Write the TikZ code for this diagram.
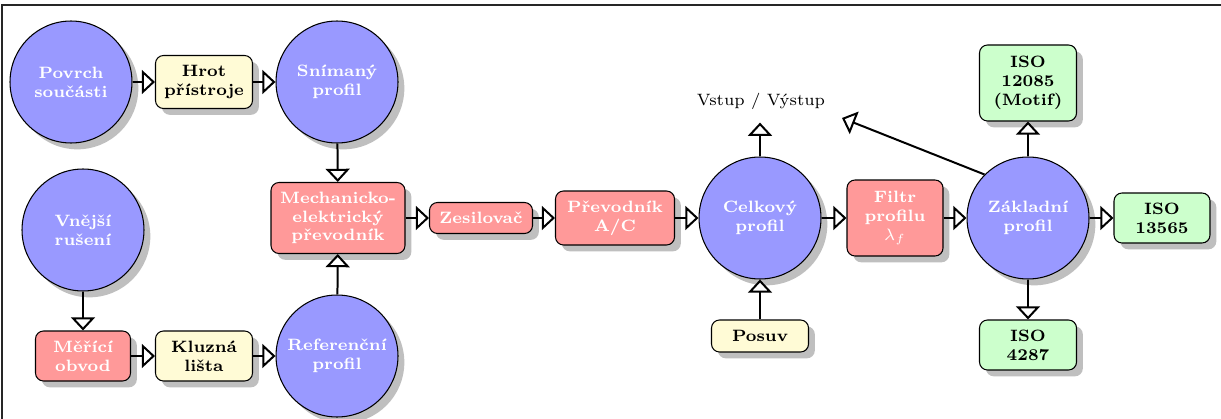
\documentclass[tikz,border=0pt]{standalone}
\usepackage{fontspec}
\usetikzlibrary{shadows,arrows.meta}
\definecolor{cblue}{HTML}{9999FF}
\definecolor{cred}{HTML}{FF9999}
\definecolor{cyel}{HTML}{FFFBD6}
\definecolor{cgreen}{HTML}{CCFFCC}
\tikzset{
  lbl/.style={font=\fontsize{7}{8}\selectfont\bfseries, align=center},
  shad/.style={drop shadow={shadow xshift=2.7pt, shadow yshift=-2.7pt, opacity=1, fill=black!25}},
  circ/.style={lbl, circle, draw=black, line width=0.45pt, fill=cblue, text=white, minimum size=51.9pt, inner sep=1pt, shad},
  bx/.style={lbl, rectangle, rounded corners=3.4pt, draw=black, line width=0.45pt, inner sep=1pt, shad},
  rbox/.style={bx, fill=cred, text=white},
  ybox/.style={bx, fill=cyel, text=black},
  gbox/.style={bx, fill=cgreen, text=black},
  sz/.style 2 args={minimum width=#1*0.4255pt, minimum height=#2*0.4255pt},
  arr/.style={line width=0.85pt, -{Triangle[fill=white, width=10.2pt, length=5.6pt, line width=0.85pt]}}
}
\begin{document}
\begin{tikzpicture}[x=0.4255pt, y=-0.4255pt]
\useasboundingbox (0,0) rectangle (1221,419);
\draw[line width=0.5pt, black!85] (2,419) -- (2,5) -- (1221,5);
% nodes
\node[circ] (povrch) at (71,82) {Povrch\\součásti};
\node[ybox, sz={97}{53}] (hrot) at (204,82) {Hrot\\přístroje};
\node[circ] (snim) at (337,82) {Snímaný\\profil};
\node[rbox, sz={134}{71}] (mech) at (338,218) {Mechanicko-\\elektrický\\převodník};
\node[circ] (vnej) at (83,230) {Vnější\\rušení};
\node[rbox, sz={95}{50}] (meric) at (83,356) {Měřící\\obvod};
\node[ybox, sz={97}{50}] (kluz) at (204,356) {Kluzná\\lišta};
\node[circ] (ref) at (337,356) {Referenční\\profil};
\node[rbox, sz={103}{31}] (zes) at (481,218) {Zesilovač};
\node[rbox, sz={119}{54}] (prev) at (615,218) {Převodník\\A/C};
\node[circ] (celk) at (760,218) {Celkový\\profil};
\node[ybox, sz={97}{32}] (posuv) at (760,336) {Posuv};
\node[font=\fontsize{7}{8}\selectfont, inner sep=0pt] (vstup) at (761,101) {Vstup / Výstup};
\node[rbox, sz={96}{76}] (filtr) at (895,218) {Filtr\\profilu\\$\lambda_f$};
\node[circ] (zakl) at (1028,218) {Základní\\profil};
\node[gbox, sz={96}{50}] (iso13) at (1162,218) {ISO\\13565};
\node[gbox, sz={97}{50}] (iso42) at (1028,345) {ISO\\4287};
\node[gbox, sz={97}{76}] (iso12) at (1028,83) {ISO\\12085\\(Motif)};
\coordinate (diag) at (842,118);
% connectors
\draw[arr] (povrch) -- (hrot);
\draw[arr] (hrot) -- (snim);
\draw[arr] (snim) -- (mech);
\draw[arr] (vnej) -- (meric);
\draw[arr] (meric) -- (kluz);
\draw[arr] (kluz) -- (ref);
\draw[arr] (ref) -- (mech);
\draw[arr] (mech) -- (zes);
\draw[arr] (zes) -- (prev);
\draw[arr] (prev) -- (celk);
\draw[arr] (posuv) -- (celk);
\draw[arr, shorten >=5.5pt] (celk) -- (celk |- vstup.south);
\draw[arr] (celk) -- (filtr);
\draw[arr] (filtr) -- (zakl);
\draw[arr] (zakl) -- (iso13);
\draw[arr] (zakl) -- (iso42);
\draw[arr] (zakl) -- (iso12);
\draw[arr] (zakl.north west) -- (diag);
\end{tikzpicture}
\end{document}
